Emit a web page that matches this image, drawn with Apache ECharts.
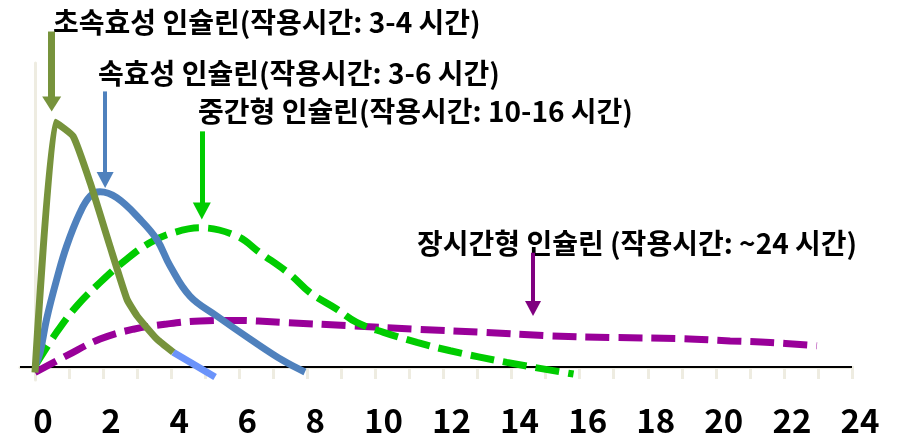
<!DOCTYPE html>
<html>
<head>
<meta charset="utf-8">
<script src="https://cdn.jsdelivr.net/npm/echarts@6/dist/echarts.min.js"></script>
<style>
html,body{margin:0;padding:0;background:#fff;}
#c{width:908px;height:437px;}
</style>
</head>
<body>
<div id="c"></div>
<script>
// ---- data (hours vs. relative insulin effect) ----
const xTickLabels = ['0','2','4','6','8','10','12','14','16','18','20','22','24'];

const rapidX = [0, 0.6, 1.12, 1.62, 2.2, 2.7, 3.0, 3.58, 4.06];
const rapidY = [-2.5, 94, 88.6, 70.7, 46.3, 25.8, 19.3, 10.4, 5.3];
const rapidTailX = [4.06, 5.29];
const rapidTailY = [5.3, -4.2];

const fastX = [0, 0.15, 0.34, 0.64, 0.93, 1.32, 1.62, 1.91, 2.4, 3.09, 3.58, 3.97, 4.55, 5.34, 6.32, 7.3, 7.93];
const fastY = [0, 5.3, 18.1, 33.5, 46.3, 59.1, 65.5, 67.2, 64.9, 56.5, 48.8, 38.6, 27, 19.3, 10.4, 2, -2.3];

const interX = [0, 0.64, 1.23, 1.91, 2.69, 3.38, 4.06, 4.85, 5.93, 6.61, 7.49, 8.08, 8.87, 9.45, 10.24, 11.22, 12.2, 13.86, 15.82];
const interY = [0, 13.1, 23.2, 32.2, 41.2, 47.6, 51.4, 53.3, 50.1, 43.7, 35.4, 28.3, 21.9, 16.8, 13, 9.1, 5.9, 1.4, -3.1];

const longX = [0, 0.93, 1.91, 2.89, 3.87, 4.85, 5.83, 7.3, 9.26, 11.22, 13.17, 15.04, 17, 18.95, 20.42, 21.6, 22.97];
const longY = [-2.5, 4, 10.4, 14.2, 16.2, 17.4, 17.6, 16.8, 15.5, 14.2, 13, 11.7, 11, 10.6, 9.7, 9.1, 7.8];

// arrows: [x, yStart, yTip]
const rapidArrow = [0.49, 129, 98.2];
const fastArrow = [2.06, 105.9, 68.7];
const interArrow = [4.9, 90.5, 56.5];
const longArrow = [14.63, 43.7, 19.3];

const labelTexts = [
  '초속효성 인슐린(작용시간: 3-4 시간)',
  '속효성 인슐린(작용시간: 3-6 시간)',
  '중간형 인슐린(작용시간: 10-16 시간)',
  '장시간형 인슐린 (작용시간: ~24 시간)'
];
// ---------------------------------------------------

const zip = (xs, ys) => xs.map((x, i) => [x, ys[i]]);
const GREY = '#EEECE1';
const PX_PER_UNIT = 2.6;

function arrowMark(a, color, width, head) {
  const endY = a[2] + (head[1] / 2) / PX_PER_UNIT;
  return {
    silent: true,
    symbol: ['none', 'triangle'],
    symbolSize: head,
    label: { show: false },
    lineStyle: { color: color, width: width, type: 'solid' },
    emphasis: { disabled: true },
    data: [[{ coord: [a[0], a[1]] }, { coord: [a[0], endY] }]]
  };
}

const chart = echarts.init(document.getElementById('c'), null, { renderer: 'canvas' });
const FONT = '"Noto Sans CJK KR", "Noto Sans", sans-serif';
const TFONT = 'bold 28px ' + FONT;

const option = {
  backgroundColor: '#ffffff',
  animation: false,
  grid: [
    { left: 20, right: 56, top: 63, bottom: 57 },
    { left: 35, right: 56, top: 3, bottom: 57 }
  ],
  xAxis: [
    { gridIndex: 0, type: 'value', min: -0.44, max: 24,
      axisLine: { show: true, lineStyle: { color: GREY, width: 3 } },
      axisTick: { show: false }, axisLabel: { show: false }, splitLine: { show: false } },
    { gridIndex: 1, type: 'value', min: 0, max: 24, interval: 1,
      axisLine: { show: false },
      axisTick: { show: true, length: 13, inside: false, lineStyle: { color: GREY, width: 3 } },
      axisLabel: {
        show: true, margin: 25, color: '#000', fontSize: 33, fontWeight: 'bold',
        fontFamily: FONT, padding: [0, 0, 0, 16],
        formatter: v => (v % 2 === 0 ? xTickLabels[v / 2] : '')
      },
      splitLine: { show: false } }
  ],
  yAxis: [
    { gridIndex: 0, type: 'value', min: -5, max: 117,
      axisLine: { show: true, lineStyle: { color: GREY, width: 3 } },
      axisTick: { show: false }, axisLabel: { show: false }, splitLine: { show: false } },
    { gridIndex: 1, type: 'value', min: -5, max: 140, show: false, splitLine: { show: false } }
  ],
  series: [
    { name: 'baseline', type: 'line', xAxisIndex: 0, yAxisIndex: 0, symbol: 'none',
      data: [[-0.44, 0], [24, 0]], lineStyle: { color: '#000', width: 2 }, silent: true },
    { name: '장시간형', type: 'line', xAxisIndex: 1, yAxisIndex: 1, symbol: 'none', smooth: 0.4, clip: false,
      data: zip(longX, longY), lineStyle: { color: '#990099', width: 7, type: [24, 9] },
      markLine: arrowMark(longArrow, '#800080', 4, [16, 15]) },
    { name: '중간형', type: 'line', xAxisIndex: 1, yAxisIndex: 1, symbol: 'none', smooth: 0.4, clip: false,
      data: zip(interX, interY), lineStyle: { color: '#00CC00', width: 7, type: [24, 9] },
      markLine: arrowMark(interArrow, '#00CC00', 5, [18, 17]) },
    { name: '속효성', type: 'line', xAxisIndex: 1, yAxisIndex: 1, symbol: 'none', smooth: 0.4, clip: false,
      data: zip(fastX, fastY), lineStyle: { color: '#4F81BD', width: 7 },
      markLine: arrowMark(fastArrow, '#4F81BD', 4, [17, 16]) },
    { name: '초속효성 tail', type: 'line', xAxisIndex: 1, yAxisIndex: 1, symbol: 'none', clip: false,
      data: zip(rapidTailX, rapidTailY), lineStyle: { color: '#6B93FA', width: 7 } },
    { name: '초속효성', type: 'line', xAxisIndex: 1, yAxisIndex: 1, symbol: 'none', smooth: 0.15, clip: false,
      data: zip(rapidX, rapidY), lineStyle: { color: '#77933C', width: 7 },
      markLine: arrowMark(rapidArrow, '#77933C', 7, [19, 15]) }
  ],
  graphic: [
    { type: 'text', style: { text: labelTexts[0], x: 53, y: 22, fill: '#000', font: TFONT, verticalAlign: 'middle' } },
    { type: 'text', style: { text: labelTexts[1], x: 98, y: 73, fill: '#000', font: TFONT, verticalAlign: 'middle' } },
    { type: 'text', style: { text: labelTexts[2], x: 198, y: 111, fill: '#000', font: TFONT, verticalAlign: 'middle' } },
    { type: 'text', style: { text: labelTexts[3], x: 417, y: 243, fill: '#000', font: TFONT, verticalAlign: 'middle' } }
  ]
};
chart.setOption(option);
</script>
</body>
</html>
